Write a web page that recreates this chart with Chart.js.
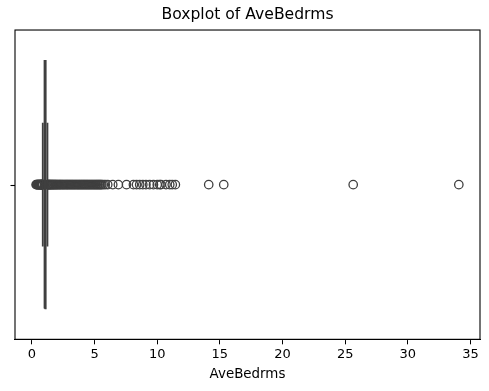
<!DOCTYPE html>
<html>
<head>
<meta charset="utf-8">
<script src="https://cdn.jsdelivr.net/npm/chart.js"></script>
<style>
  html, body { margin: 0; padding: 0; background: #fff; }
  #wrap { width: 489px; height: 391px; }
</style>
</head>
<body>
<div id="wrap"><canvas id="box" width="489" height="391"></canvas></div>
<script>
// boxplot of one column, drawn with plain scatter datasets
const category = 'AveBedrms';
const quartiles = [1.006, 1.049, 1.0997];   // q1, median, q3
const whiskers = [0.866, 1.240];
const lowOutliers = [
  0.333, 0.375, 0.42, 0.47, 0.5, 0.53, 0.56, 0.6, 0.63, 0.66,
  0.69, 0.71, 0.73, 0.75, 0.77, 0.79, 0.81, 0.83, 0.845, 0.86
];
const highOutliers = [
  1.25, 1.28, 1.31, 1.35, 1.39, 1.43, 1.47, 1.52, 1.56, 1.61,
  1.66, 1.71, 1.76, 1.82, 1.87, 1.93, 1.99, 2.05, 2.11, 2.18,
  2.24, 2.31, 2.38, 2.45, 2.52, 2.59, 2.66, 2.74, 2.81, 2.88,
  2.96, 3.03, 3.11, 3.18, 3.26, 3.33, 3.41, 3.48, 3.56, 3.63,
  3.71, 3.78, 3.86, 3.93, 4.01, 4.08, 4.16, 4.23, 4.31, 4.38,
  4.46, 4.53, 4.61, 4.68, 4.76, 4.83, 4.91, 4.98, 5.06, 5.13,
  5.21, 5.28, 5.36, 5.43, 5.51, 5.58, 5.7, 5.85, 6.05, 6.45,
  6.9, 7.55, 8.1, 8.35, 8.6, 8.85, 9.1, 9.4, 9.7, 10.0,
  10.2, 10.3, 10.7, 11.0, 11.2, 11.45, 14.11, 15.31, 25.64, 34.07
];
const xTicks = [0, 5, 10, 15, 20, 25, 30, 35];

const ink = '#3f3f3f';
const boxHalf = 0.4, capHalf = 0.2;

const [q1, med, q3] = quartiles;
const [wLo, wHi] = whiskers;

function seg(points, extra) {
  return Object.assign({
    data: points, showLine: true, pointRadius: 0, borderColor: ink,
    borderWidth: 1.8, fill: false
  }, extra || {});
}

const datasets = [
  seg([{x: q1, y: -boxHalf}, {x: q3, y: -boxHalf}, {x: q3, y: boxHalf}, {x: q1, y: boxHalf}, {x: q1, y: -boxHalf}],
      {backgroundColor: '#3a75af', fill: true}),
  seg([{x: med, y: -boxHalf}, {x: med, y: boxHalf}]),
  seg([{x: wLo, y: 0}, {x: q1, y: 0}]),
  seg([{x: q3, y: 0}, {x: wHi, y: 0}]),
  seg([{x: wLo, y: -capHalf}, {x: wLo, y: capHalf}]),
  seg([{x: wHi, y: -capHalf}, {x: wHi, y: capHalf}]),
  {
    data: lowOutliers.concat(highOutliers).map(v => ({x: v, y: 0})),
    showLine: false,
    pointStyle: 'circle',
    pointRadius: 4.2,
    pointBorderWidth: 1.3,
    pointBorderColor: ink,
    pointBackgroundColor: 'rgba(0,0,0,0)'
  }
];

const frame = {
  id: 'frame',
  afterDraw(chart) {
    const {ctx, chartArea: a, scales} = chart;
    ctx.save();
    ctx.strokeStyle = '#000';
    ctx.lineWidth = 1.1;
    ctx.strokeRect(a.left, a.top, a.right - a.left, a.bottom - a.top);
    const y0 = Math.round(scales.y.getPixelForValue(0)) + 0.5;
    ctx.beginPath();
    ctx.moveTo(a.left - 4.5, y0);
    ctx.lineTo(a.left, y0);
    ctx.stroke();
    ctx.restore();
  }
};

new Chart(document.getElementById('box'), {
  type: 'scatter',
  data: { datasets },
  plugins: [frame],
  options: {
    responsive: false,
    animation: false,
    layout: { padding: { left: 15, right: 9, top: 0, bottom: 4 } },
    plugins: {
      legend: { display: false },
      tooltip: { enabled: false },
      title: {
        display: true,
        text: 'Boxplot of ' + category,
        color: '#000',
        font: { family: 'DejaVu Sans', size: 15.6, weight: 'normal' },
        padding: { top: 6, bottom: 5.3 }
      }
    },
    scales: {
      x: {
        type: 'linear',
        min: -1.35,
        max: 35.76,
        afterBuildTicks: s => { s.ticks = xTicks.map(v => ({value: v})); },
        grid: { display: true, drawOnChartArea: false, drawTicks: true, tickLength: 5, color: '#000' },
        border: { display: true, color: '#000', width: 1.1 },
        ticks: { color: '#000', padding: 3, maxRotation: 0, font: { family: 'DejaVu Sans', size: 13 } },
        title: {
          display: true, text: category, color: '#000',
          font: { family: 'DejaVu Sans', size: 13.4 },
          padding: { top: 1, bottom: 4 }
        }
      },
      y: {
        type: 'linear',
        display: false,
        min: -0.5,
        max: 0.5
      }
    }
  }
});
</script>
</body>
</html>
